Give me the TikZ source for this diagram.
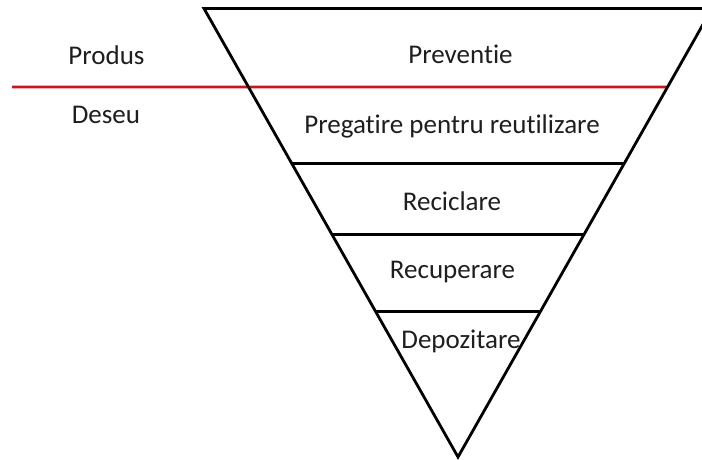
\documentclass[tikz,border=0pt]{standalone}
\usepackage{fontspec}
\setmainfont{Carlito}[Ligatures={NoCommon}]
\usetikzlibrary{calc}
\definecolor{divider}{RGB}{200,22,30}
\definecolor{ink}{RGB}{30,30,30}
\begin{document}
\begin{tikzpicture}[x=1pt,y=-1pt,
  edge/.style={line width=2.8pt,black,line cap=round,line join=miter},
  redline/.style={line width=2.8pt,divider},
  label/.style={font=\fontsize{27}{30}\selectfont,text=ink,inner sep=0pt,anchor=base}]
\useasboundingbox (0,0) rectangle (702,459);
\clip (0,0) rectangle (702,459);
% corners of the inverted triangle
\coordinate (tl) at (204,8.5);
\coordinate (tr) at (712,8.5);
\coordinate (apex) at (458,457);
% band dividers, as fractions of the height from the top
\foreach \t/\n in {0.3464/a,0.5045/b,0.6759/c}{
  \coordinate (l\n) at ($(tl)!\t!(apex)$);
  \coordinate (r\n) at ($(tr)!\t!(apex)$);
}
\coordinate (lred) at (12,87);
\coordinate (rred) at ($(tr)!0.1749!(apex)$);
% red product / waste boundary
\draw[redline] (lred) -- (rred);
% outline and bands
\draw[edge] (tl) -- (tr) -- (apex) -- cycle;
\draw[edge] (la) -- (ra);
\draw[edge] (lb) -- (rb);
\draw[edge] (lc) -- (rc);
% labels
\node[label] (prev) at (460.5,63.5) {Preventie};
\node[label] (preg) at (452,133) {Pregatire pentru reutilizare};
\node[label] (recic) at (452,210.5) {Reciclare};
\node[label] (recup) at (452.5,278) {Recuperare};
\node[label] (depo) at (461,348) {Depozitare};
\node[label] (prod) at (106.5,64.5) {Produs};
\node[label] (des) at (106,123.5) {Deseu};
\end{tikzpicture}
\end{document}
